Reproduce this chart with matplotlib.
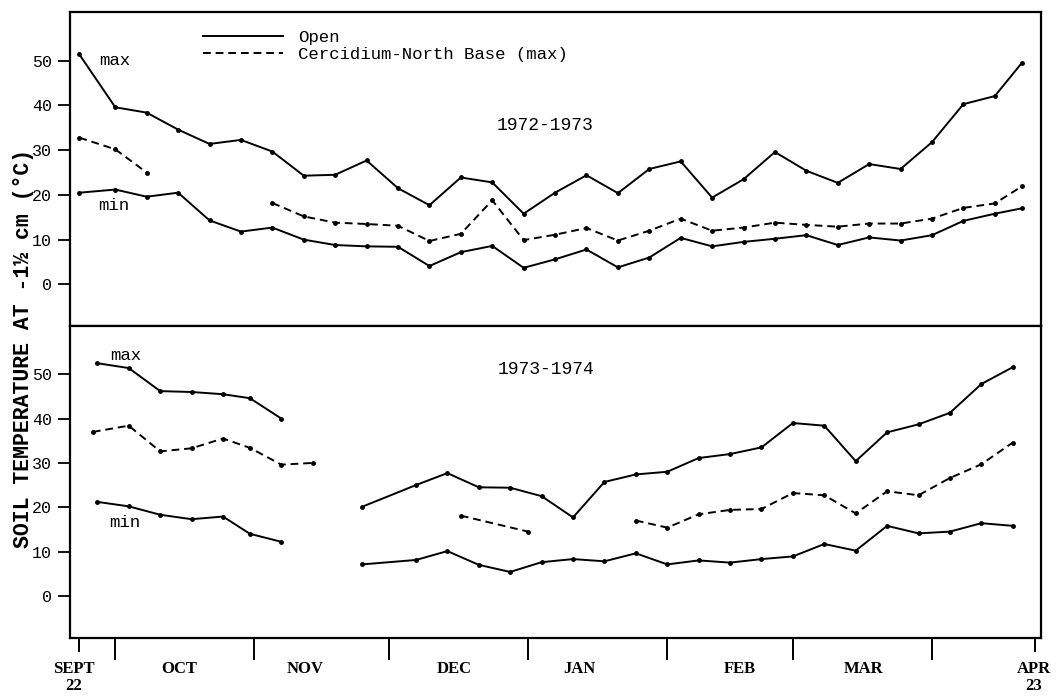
import numpy as np
import matplotlib
matplotlib.use("Agg")
import matplotlib.pyplot as plt
from matplotlib.lines import Line2D
from matplotlib.transforms import blended_transform_factory

nan = np.nan

# ---- data: soil temperature at -1.5 cm, x = days after Sept 22 ----
days_7273 = [0, 8, 15, 22, 29, 36, 43, 50, 57, 64, 71, 78, 85, 92, 99, 106,
             113, 120, 127, 134, 141, 148, 155, 162, 169, 176, 183, 190, 197, 204, 210]
open_max_7273 = [51.4, 39.6, 38.4, 34.6, 31.4, 32.3, 29.7, 24.3, 24.5, 27.7, 21.5,
                 17.7, 23.9, 22.8, 15.8, 20.5, 24.4, 20.4, 25.8, 27.5, 19.4, 23.5,
                 29.6, 25.4, 22.7, 26.9, 25.8, 31.8, 40.3, 42.1, 49.5]
open_min_7273 = [20.5, 21.2, 19.6, 20.5, 14.3, 11.8, 12.7, 10.0, 8.8, 8.5, 8.4,
                 4.1, 7.2, 8.6, 3.7, 5.6, 7.8, 3.8, 6.0, 10.4, 8.5, 9.5,
                 10.2, 11.0, 8.8, 10.5, 9.8, 11.0, 14.2, 15.8, 17.0]
cerc_max_7273 = [32.8, 30.2, 25.0, nan, nan, nan, 18.2, 15.2, 13.8, 13.5, 13.1,
                 9.7, 11.3, 18.8, 9.9, 11.1, 12.6, 9.8, 12.0, 14.7, 12.0, 12.7,
                 13.8, 13.3, 12.9, 13.6, 13.6, 14.7, 17.1, 18.1, 21.9]

days_7374 = [4, 11, 18, 25, 32, 38, 45, 52, 63, 75, 82, 89, 96, 103, 110, 117,
             124, 131, 138, 145, 152, 159, 166, 173, 180, 187, 194, 201, 208]
open_max_7374 = [52.5, 51.4, 46.2, 46.0, 45.5, 44.6, 40.0, nan, 20.1, 25.0, 27.7,
                 24.5, 24.4, 22.5, 17.7, 25.7, 27.4, 28.0, 31.1, 32.0, 33.5, 39.0,
                 38.4, 30.4, 36.9, 38.7, 41.3, 47.8, 51.6]
open_min_7374 = [21.2, 20.2, 18.3, 17.3, 17.9, 14.0, 12.2, nan, 7.1, 8.1, 10.1,
                 7.0, 5.4, 7.6, 8.3, 7.8, 9.6, 7.1, 8.0, 7.5, 8.3, 8.9,
                 11.7, 10.2, 15.8, 14.1, 14.5, 16.4, 15.8]
cerc_days_7374 = [3, 11, 18, 25, 32, 38, 45, 52, 68, 85, 100, 110, 124, 131, 138,
                  145, 152, 159, 166, 173, 180, 187, 194, 201, 208]
cerc_max_7374 = [37.0, 38.4, 32.6, 33.3, 35.5, 33.4, 29.6, 30.0, nan, 18.1, 14.5,
                 nan, 17.0, 15.4, 18.4, 19.4, 19.6, 23.2, 22.7, 18.6, 23.6, 22.7,
                 26.6, 29.7, 34.6]

# month boundaries (days after Sept 22) and label positions
month_ticks = [8, 39, 69, 100, 131, 159, 190]
end_ticks = [0, 213]
month_labels = ["SEPT\n22", "OCT", "NOV", "DEC", "JAN", "FEB", "MAR", "APR\n23"]
month_label_pos = [-1.3, 22.3, 50.4, 83.6, 111.5, 147.2, 174.8, 212.7]

mono = "Liberation Mono"
serif = "Liberation Serif"
lw = 1.4
dash = (0, (4, 2.5))

fig = plt.figure(figsize=(10.57, 6.98), dpi=100)
ax1 = fig.add_axes([0.0662, 0.533, 0.9187, 0.4498])
ax2 = fig.add_axes([0.0662, 0.086, 0.9187, 0.447])

#-----1972-1973-------------------------
ax1.plot(days_7273, open_max_7273, color='k', lw=lw, marker='o', ms=2.5)
ax1.plot(days_7273, open_min_7273, color='k', lw=lw, marker='o', ms=2.5)
ax1.plot(days_7273, cerc_max_7273, color='k', lw=lw, ls=dash, marker='o', ms=2.5)
ax1.set_ylim(-9.3, 60.9)
ax1.text(4.3, 50.1, "max", fontfamily=mono, fontsize=12.5, va='center')
ax1.text(4.2, 17.6, "min", fontfamily=mono, fontsize=12.5, va='center')
ax1.text(103.8, 35.5, "1972-1973", fontfamily=mono, fontsize=13, ha='center', va='center')

handles = [Line2D([], [], color='k', lw=lw), Line2D([], [], color='k', lw=lw, ls=dash)]
ax1.legend(handles, ["Open", "Cercidium-North Base (max)"], loc='upper left',
           bbox_to_anchor=(0.137, 0.943), frameon=False, handlelength=4.6,
           handletextpad=0.85, borderpad=0, borderaxespad=0, labelspacing=0.12,
           prop={'family': mono, 'size': 12.5})

#-----1973-1974-------------------------
ax2.plot(days_7374, open_max_7374, color='k', lw=lw, marker='o', ms=2.5)
ax2.plot(days_7374, open_min_7374, color='k', lw=lw, marker='o', ms=2.5)
ax2.plot(cerc_days_7374, cerc_max_7374, color='k', lw=lw, ls=dash, marker='o', ms=2.5)
ax2.set_ylim(-9.5, 60.9)
ax2.text(6.8, 54.2, "max", fontfamily=mono, fontsize=12.5, va='center')
ax2.text(6.6, 16.6, "min", fontfamily=mono, fontsize=12.5, va='center')
ax2.text(104.1, 51.0, "1973-1974", fontfamily=mono, fontsize=13, ha='center', va='center')

for ax in (ax1, ax2):
    ax.set_xlim(-2.1, 214.3)
    ax.set_yticks([0, 10, 20, 30, 40, 50])
    ax.tick_params(axis='y', direction='out', length=9, width=1.3, pad=4,
                   labelsize=12)
    for lab in ax.get_yticklabels():
        lab.set_fontfamily(mono)
    for sp in ax.spines.values():
        sp.set_linewidth(1.6)

ax1.set_xticks([])
ax2.set_xticks(month_ticks)
ax2.set_xticks(end_ticks, minor=True)
ax2.set_xticklabels([])
ax2.tick_params(axis='x', which='major', direction='out', length=16, width=1.4)
ax2.tick_params(axis='x', which='minor', direction='out', length=10, width=1.4)

trans = blended_transform_factory(ax2.transData, ax2.transAxes)
for pos, lab in zip(month_label_pos, month_labels):
    ax2.text(pos, -0.075, lab, transform=trans, ha='center', va='top',
             fontfamily=serif, fontweight='bold', fontsize=12, linespacing=1.05)

fig.text(0.022, 0.501, "SOIL TEMPERATURE AT -1\u00bd cm (\u00b0C)", rotation=90,
         ha='center', va='center', fontfamily=mono, fontweight='bold', fontsize=15.5)

fig.savefig("out.png", dpi=100)
